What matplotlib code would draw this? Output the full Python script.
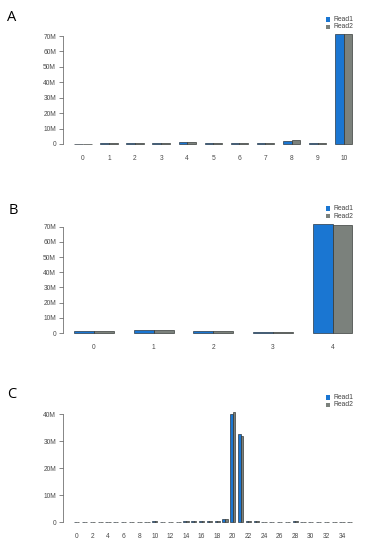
import matplotlib
matplotlib.use("Agg")
import matplotlib.pyplot as plt
import numpy as np

# Panel A data (millions)
a_cats = [str(i) for i in range(11)]
a_read1 = [0.3, 0.4, 0.8, 0.7, 1.5, 0.6, 0.8, 0.5, 2.0, 0.9, 71.5]
a_read2 = [0.3, 0.4, 0.9, 0.8, 1.2, 0.6, 0.8, 0.5, 2.3, 0.8, 71.0]

# Panel B data (millions)
b_cats = [str(i) for i in range(5)]
b_read1 = [1.2, 1.7, 1.2, 0.6, 72.0]
b_read2 = [1.5, 1.8, 1.4, 0.7, 71.3]

# Panel C data (millions)
c_cats = [str(i) for i in range(36)]
c_read1 = [0.05, 0.05, 0.05, 0.05, 0.05, 0.05, 0.05, 0.05, 0.05, 0.05,
           0.3, 0.1, 0.1, 0.1, 0.3, 0.2, 0.2, 0.3, 0.3, 1.0,
           40.0, 32.6, 0.5, 0.2, 0.1, 0.1, 0.1, 0.1, 0.3, 0.1,
           0.05, 0.05, 0.05, 0.05, 0.05, 0.05]
c_read2 = [0.05, 0.05, 0.05, 0.05, 0.05, 0.05, 0.05, 0.05, 0.05, 0.05,
           0.3, 0.1, 0.1, 0.1, 0.3, 0.2, 0.2, 0.3, 0.3, 1.0,
           40.6, 31.8, 0.5, 0.2, 0.1, 0.1, 0.1, 0.1, 0.3, 0.1,
           0.05, 0.05, 0.05, 0.05, 0.05, 0.05]

a_yticks = [0, 10, 20, 30, 40, 50, 60, 70]
c_yticks = [0, 10, 20, 30, 40]
series_names = ["Read1", "Read2"]
colors = ["#1a76d2", "#7b817c"]

W, H = 368, 550
fig = plt.figure(figsize=(W / 100, H / 100), dpi=100)

tick_font = dict(family="Liberation Sans", size=4.8, color="#4a4a4a")


def panel(rect, letter, letter_xy, cats, r1, r2, yticks, label_every, legend_y):
    ax = fig.add_axes(rect)
    n = len(cats)
    idx = np.arange(n)
    left1 = 1 + 3 * idx
    left2 = left1 + 1
    ax.bar(left1, r1, width=1, align="edge", color=colors[0],
           edgecolor="#1e2a33", linewidth=0.45)
    ax.bar(left2, r2, width=1, align="edge", color=colors[1],
           edgecolor="#2a2e2c", linewidth=0.45)
    span = 3 * n - 1
    pad = 0.04 * span
    ax.set_xlim(1 - pad, 3 * n + pad)
    ymax = max(max(r1), max(r2))
    ax.set_ylim(-0.04 * ymax, ymax * 1.04)
    for s in ["top", "right", "bottom"]:
        ax.spines[s].set_visible(False)
    ax.spines["left"].set_bounds(yticks[0], yticks[-1])
    ax.spines["left"].set_linewidth(0.5)
    ax.spines["left"].set_color("#555555")
    ax.set_yticks(yticks)
    ax.set_yticklabels(["0" if v == 0 else f"{v}M" for v in yticks], **tick_font)
    ax.tick_params(axis="y", length=3, width=0.5, color="#555555", pad=2)
    centers = left1 + 1
    shown = [i for i in range(n) if i % label_every == 0]
    ax.set_xticks(centers[shown])
    ax.set_xticklabels([cats[i] for i in shown], **tick_font)
    ax.tick_params(axis="x", length=0, pad=5)
    ax.set_facecolor("none")
    fig.text(letter_xy[0] / W, 1 - letter_xy[1] / H, letter, fontsize=10.5,
             family="Open Sans", ha="center", va="center")
    # legend (drawn in figure coords as in reference)
    for k, name in enumerate(series_names):
        yy = legend_y + 7.5 * k
        fig.patches.append(plt.Rectangle(((325.5) / W, 1 - (yy + 2.2) / H), 4.4 / W, 4.4 / H,
                                         transform=fig.transFigure, facecolor=colors[k],
                                         edgecolor="none"))
        fig.text(333 / W, 1 - yy / H, name, ha="left", va="center",
                 family="Liberation Sans", size=4.9, color="#444444")
    return ax


panel([63 / W, 1 - 148.4 / H, 300.6 / W, 119.1 / H], "A", (12, 17.5),
      a_cats, a_read1, a_read2, a_yticks, 1, 19.5)
panel([63 / W, 1 - 337.4 / H, 300.6 / W, 118.1 / H], "B", (13, 210),
      b_cats, b_read1, b_read2, a_yticks, 1, 208.5)
panel([63 / W, 1 - 526.4 / H, 300.6 / W, 118.4 / H], "C", (12, 395),
      c_cats, c_read1, c_read2, c_yticks, 2, 397.5)

fig.savefig("out.png", dpi=100)
